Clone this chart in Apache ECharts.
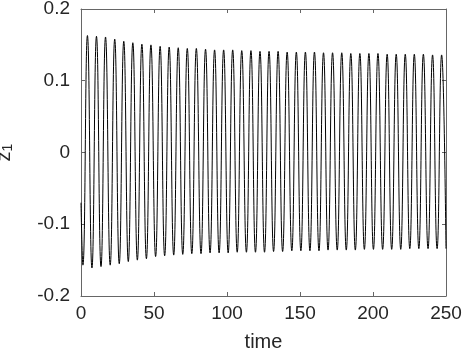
<!DOCTYPE html>
<html>
<head>
<meta charset="utf-8">
<script src="https://cdn.jsdelivr.net/npm/echarts@6/dist/echarts.min.js"></script>
<style>
  html, body { margin: 0; padding: 0; background: #fff; }
  #chart { width: 465px; height: 354px; }
</style>
</head>
<body>
<div id="chart"></div>
<script>
// value at t = 0
var startPoint = [0, -0.07];
// troughs (time, z1)
var troughT = [1.3, 7.5, 13.7, 20.0, 26.2, 32.4, 38.6, 44.8, 51.1, 57.3,
    63.5, 69.7, 75.9, 82.2, 88.4, 94.6, 100.8, 107.0, 113.3, 119.5,
    125.7, 131.9, 138.1, 144.4, 150.6, 156.8, 163.0, 169.2, 175.5, 181.7,
    187.9, 194.1, 200.3, 206.6, 212.8, 219.0, 225.2, 231.4, 237.7, 243.9];
var troughZ = [-0.157, -0.161, -0.159, -0.157, -0.155, -0.152, -0.150, -0.148, -0.145, -0.144,
    -0.143, -0.142, -0.141, -0.141, -0.140, -0.140, -0.140, -0.139, -0.139, -0.139,
    -0.139, -0.138, -0.138, -0.137, -0.137, -0.137, -0.137, -0.136, -0.136, -0.136,
    -0.136, -0.135, -0.135, -0.135, -0.135, -0.135, -0.134, -0.134, -0.134, -0.134];
// peaks (time, z1)
var peakT = [4.4, 10.6, 16.8, 23.1, 29.3, 35.5, 41.7, 47.9, 54.2, 60.4,
    66.6, 72.8, 79.0, 85.3, 91.5, 97.7, 103.9, 110.1, 116.4, 122.6,
    128.8, 135.0, 141.2, 147.5, 153.7, 159.9, 166.1, 172.3, 178.6, 184.8,
    191.0, 197.2, 203.4, 209.7, 215.9, 222.1, 228.3, 234.5, 240.8, 247.0];
var peakZ = [0.163, 0.162, 0.161, 0.158, 0.155, 0.153, 0.151, 0.150, 0.148, 0.147,
    0.146, 0.145, 0.145, 0.144, 0.143, 0.143, 0.143, 0.142, 0.142, 0.141,
    0.141, 0.141, 0.140, 0.140, 0.140, 0.140, 0.139, 0.139, 0.139, 0.138,
    0.138, 0.138, 0.138, 0.137, 0.137, 0.137, 0.137, 0.137, 0.136, 0.136];
// value at t = 250
var endPoint = [250, -0.134];

var xTicks = [0, 50, 100, 150, 200, 250];
var yTicks = [-0.2, -0.1, 0, 0.1, 0.2];

var points = [startPoint];
for (var i = 0; i < troughT.length; i++) {
    points.push([troughT[i], troughZ[i]]);
    points.push([peakT[i], peakZ[i]]);
}
points.push(endPoint);

var font = 'Liberation Sans, Arial, sans-serif';
var axisColor = '#666';

function frameAxis(extra) {
    var base = {
        type: 'value',
        axisLine: { show: true, onZero: false, lineStyle: { color: axisColor, width: 1 } },
        axisTick: { show: true, inside: true, length: 4, lineStyle: { color: axisColor } },
        splitLine: { show: false },
        axisLabel: { show: false }
    };
    for (var k in extra) base[k] = extra[k];
    return base;
}

var chart = echarts.init(document.getElementById('chart'), null, { renderer: 'canvas' });
chart.setOption({
    animation: false,
    backgroundColor: '#fff',
    grid: { left: 81, right: 19, top: 9, bottom: 58, containLabel: false, outerBoundsMode: 'none' },
    xAxis: [
        frameAxis({
            position: 'bottom',
            min: xTicks[0], max: xTicks[xTicks.length - 1], interval: 50,
            name: 'time', nameLocation: 'middle', nameGap: 36,
            nameTextStyle: { fontFamily: font, fontSize: 20, color: '#262626' },
            axisLabel: { show: true, margin: 8, fontFamily: font, fontSize: 19, color: '#262626' }
        }),
        frameAxis({
            position: 'top',
            min: xTicks[0], max: xTicks[xTicks.length - 1], interval: 50
        })
    ],
    yAxis: [
        frameAxis({
            position: 'left',
            min: yTicks[0], max: yTicks[yTicks.length - 1], interval: 0.1,
            name: 'z{sub|1}', nameLocation: 'middle', nameGap: 66, nameRotate: 90,
            nameTextStyle: {
                fontFamily: font, fontSize: 20, color: '#262626',
                rich: { sub: { fontFamily: font, fontSize: 14, color: '#262626', verticalAlign: 'bottom', padding: [8, 0, 0, 0] } }
            },
            axisLabel: {
                show: true, margin: 11, fontFamily: font, fontSize: 19, color: '#262626',
                formatter: function (v) { return v === 0 ? '0' : String(Math.round(v * 10) / 10); }
            }
        }),
        frameAxis({
            position: 'right',
            min: yTicks[0], max: yTicks[yTicks.length - 1], interval: 0.1
        })
    ],
    series: [{
        type: 'line',
        data: points,
        smooth: true,
        showSymbol: false,
        clip: true,
        lineStyle: { color: '#000', width: 1 }
    }]
});
</script>
</body>
</html>
